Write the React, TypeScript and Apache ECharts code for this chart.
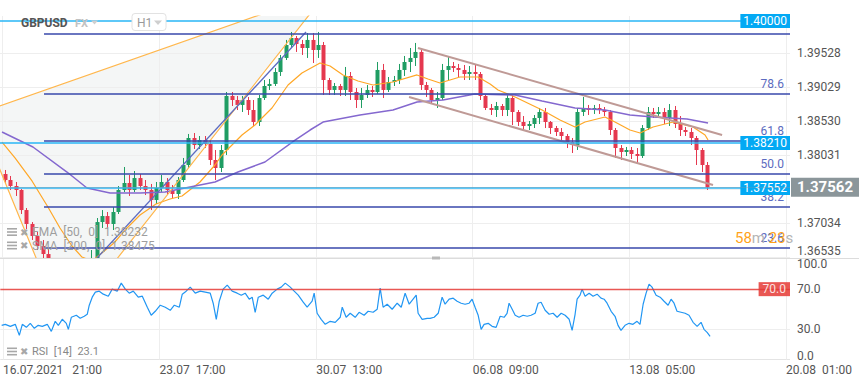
import React, { useEffect, useRef } from 'react';
import * as echarts from 'echarts';

// ---------- DATA ----------
// 4-hour candles: [open, close, low, high]
const candles: number[][] = [
  [1.37757, 1.37669, 1.37625, 1.37816], [1.37669, 1.37581, 1.37523, 1.37728], [1.37581, 1.37523, 1.37435, 1.37640],
  [1.37523, 1.37229, 1.37171, 1.37537], [1.37229, 1.37024, 1.36951, 1.37259], [1.37024, 1.36848, 1.36790, 1.37053],
  [1.36848, 1.36702, 1.36643, 1.36907], [1.36702, 1.36584, 1.36526, 1.36790], [1.36584, 1.36467, 1.36408, 1.36672],
  [1.36467, 1.36203, 1.36130, 1.36526], [1.36203, 1.35910, 1.35734, 1.36262], [1.35910, 1.35983, 1.35719, 1.36130],
  [1.35983, 1.36057, 1.35881, 1.36159], [1.36057, 1.36145, 1.35969, 1.36262], [1.36145, 1.36057, 1.35939, 1.36232],
  [1.36057, 1.36320, 1.35998, 1.36379], [1.36320, 1.36526, 1.36262, 1.36643], [1.36526, 1.37053, 1.36467, 1.37112],
  [1.37053, 1.37141, 1.36966, 1.37229], [1.37141, 1.37024, 1.36951, 1.37200], [1.37024, 1.37200, 1.36936, 1.37273],
  [1.37200, 1.37523, 1.37171, 1.37581], [1.37523, 1.37625, 1.37493, 1.37860], [1.37625, 1.37523, 1.37435, 1.37742],
  [1.37523, 1.37698, 1.37493, 1.37801], [1.37698, 1.37581, 1.37523, 1.37757], [1.37581, 1.37523, 1.37449, 1.37669],
  [1.37523, 1.37376, 1.37229, 1.37611], [1.37376, 1.37552, 1.37317, 1.37640], [1.37552, 1.37640, 1.37493, 1.37742],
  [1.37640, 1.37523, 1.37449, 1.37698], [1.37523, 1.37464, 1.37405, 1.37596], [1.37464, 1.37669, 1.37391, 1.37713],
  [1.37669, 1.37889, 1.37640, 1.37992], [1.37889, 1.38285, 1.37845, 1.38344], [1.38285, 1.38182, 1.38124, 1.38358],
  [1.38182, 1.38255, 1.38124, 1.38314], [1.38255, 1.38197, 1.38138, 1.38314], [1.38197, 1.37962, 1.37889, 1.38255],
  [1.37962, 1.37845, 1.37669, 1.38109], [1.37845, 1.38109, 1.37786, 1.38182], [1.38109, 1.38901, 1.38036, 1.38959],
  [1.38901, 1.38842, 1.38754, 1.38959], [1.38842, 1.38769, 1.38695, 1.38901], [1.38769, 1.38842, 1.38666, 1.38901],
  [1.38842, 1.38695, 1.38622, 1.38886], [1.38695, 1.38519, 1.38461, 1.38842], [1.38519, 1.38871, 1.38461, 1.38915],
  [1.38871, 1.39047, 1.38842, 1.39135], [1.39047, 1.39077, 1.38989, 1.39150], [1.39077, 1.39252, 1.39047, 1.39311],
  [1.39252, 1.39458, 1.39194, 1.39502], [1.39458, 1.39648, 1.39428, 1.39722], [1.39648, 1.39751, 1.39604, 1.39839],
  [1.39751, 1.39663, 1.39546, 1.39780], [1.39663, 1.39604, 1.39502, 1.39722], [1.39604, 1.39722, 1.39458, 1.39824],
  [1.39722, 1.39575, 1.39384, 1.39824], [1.39575, 1.39648, 1.39458, 1.39839], [1.39648, 1.39135, 1.38915, 1.39692],
  [1.39135, 1.38989, 1.38915, 1.39165], [1.38989, 1.39047, 1.38915, 1.39091], [1.39047, 1.38989, 1.38901, 1.39077],
  [1.38989, 1.39194, 1.38901, 1.39326], [1.39194, 1.38959, 1.38842, 1.39252], [1.38959, 1.38842, 1.38725, 1.39018],
  [1.38842, 1.38915, 1.38725, 1.39018], [1.38915, 1.38989, 1.38871, 1.39062], [1.38989, 1.38959, 1.38886, 1.39047],
  [1.38959, 1.39282, 1.38930, 1.39399], [1.39282, 1.38989, 1.38871, 1.39370], [1.38989, 1.39106, 1.38959, 1.39179],
  [1.39106, 1.39135, 1.39047, 1.39194], [1.39135, 1.39282, 1.39077, 1.39370], [1.39282, 1.39399, 1.39194, 1.39487],
  [1.39399, 1.39458, 1.39252, 1.39604], [1.39458, 1.39546, 1.39340, 1.39678], [1.39546, 1.39062, 1.38989, 1.39575],
  [1.39062, 1.38989, 1.38886, 1.39106], [1.38989, 1.38842, 1.38783, 1.39018], [1.38842, 1.38871, 1.38725, 1.38959],
  [1.38871, 1.39282, 1.38842, 1.39370], [1.39282, 1.39340, 1.39135, 1.39472], [1.39340, 1.39311, 1.39252, 1.39399],
  [1.39311, 1.39282, 1.39179, 1.39370], [1.39282, 1.39223, 1.39135, 1.39355], [1.39223, 1.39252, 1.39135, 1.39340],
  [1.39252, 1.39223, 1.39135, 1.39355], [1.39223, 1.38901, 1.38842, 1.39252], [1.38901, 1.38725, 1.38695, 1.38930],
  [1.38725, 1.38695, 1.38622, 1.38783], [1.38695, 1.38754, 1.38593, 1.38813], [1.38754, 1.38695, 1.38607, 1.38783],
  [1.38695, 1.38871, 1.38607, 1.38915], [1.38871, 1.38666, 1.38475, 1.38915], [1.38666, 1.38519, 1.38461, 1.38695],
  [1.38519, 1.38461, 1.38402, 1.38607], [1.38461, 1.38490, 1.38402, 1.38534], [1.38490, 1.38578, 1.38431, 1.38622],
  [1.38578, 1.38666, 1.38490, 1.38725], [1.38666, 1.38519, 1.38431, 1.38725], [1.38519, 1.38431, 1.38344, 1.38534],
  [1.38431, 1.38373, 1.38314, 1.38461], [1.38373, 1.38314, 1.38255, 1.38431], [1.38314, 1.38226, 1.38138, 1.38344],
  [1.38226, 1.38182, 1.38065, 1.38285], [1.38182, 1.38666, 1.38109, 1.38725], [1.38666, 1.38725, 1.38607, 1.38886],
  [1.38725, 1.38695, 1.38622, 1.38769], [1.38695, 1.38725, 1.38637, 1.38769], [1.38725, 1.38695, 1.38637, 1.38783],
  [1.38695, 1.38666, 1.38607, 1.38739], [1.38666, 1.38402, 1.38329, 1.38695], [1.38402, 1.38138, 1.37992, 1.38431],
  [1.38138, 1.38080, 1.37962, 1.38182], [1.38080, 1.38109, 1.38021, 1.38153], [1.38109, 1.38050, 1.37977, 1.38153],
  [1.38050, 1.38021, 1.37918, 1.38138], [1.38021, 1.38431, 1.37992, 1.38475], [1.38431, 1.38666, 1.38402, 1.38739],
  [1.38666, 1.38637, 1.38578, 1.38725], [1.38637, 1.38666, 1.38578, 1.38739], [1.38666, 1.38578, 1.38490, 1.38725],
  [1.38578, 1.38695, 1.38461, 1.38783], [1.38695, 1.38490, 1.38431, 1.38754], [1.38490, 1.38402, 1.38314, 1.38607],
  [1.38402, 1.38373, 1.38314, 1.38446], [1.38373, 1.38285, 1.38182, 1.38431], [1.38285, 1.38109, 1.37889, 1.38314],
  [1.38109, 1.37889, 1.37786, 1.38138], [1.37889, 1.37562, 1.37523, 1.37933],
];
const candleHours = 4; // hours per candle

// EMA 50: [hour, value]
const emaLine: number[][] = [
  [-0.5, 1.38226], [9.1, 1.37992], [21.7, 1.37655], [33.5, 1.37273], [42.4, 1.36966], [51.3, 1.36702],
  [58.7, 1.36540], [66.1, 1.36482], [74.3, 1.36614], [82.4, 1.36746], [90.6, 1.36936], [101.7, 1.37156],
  [113.5, 1.37317], [123.9, 1.37391], [132.8, 1.37435], [146.1, 1.37640], [157.2, 1.37889], [162.4, 1.38036],
  [177.2, 1.38329], [186.8, 1.38475], [199.4, 1.38725], [211.3, 1.39062], [221.6, 1.39238], [235.0, 1.39384],
  [242.4, 1.39340], [252.0, 1.39209], [263.1, 1.39120], [274.2, 1.39062], [289.0, 1.39106], [306.8, 1.39209],
  [314.9, 1.39150], [323.8, 1.39091], [338.6, 1.39179], [352.0, 1.39179], [360.9, 1.39077], [366.8, 1.38989],
  [379.4, 1.38886], [399.4, 1.38695], [412.7, 1.38549], [423.8, 1.38446], [431.2, 1.38519], [446.0, 1.38593],
  [453.4, 1.38519], [464.5, 1.38402], [472.0, 1.38358], [481.6, 1.38446], [496.4, 1.38519], [511.2, 1.38446],
  [520.1, 1.38329], [522.3, 1.38255],
];

// SMA 200: [hour, value]
const smaLine: number[][] = [
  [-0.5, 1.38373], [22.4, 1.38153], [47.6, 1.37786], [62.4, 1.37552], [79.5, 1.37479], [101.7, 1.37479],
  [120.2, 1.37493], [157.2, 1.37640], [174.2, 1.37786], [194.2, 1.37933], [216.5, 1.38255], [227.6, 1.38402],
  [237.2, 1.38519], [264.6, 1.38622], [289.0, 1.38695], [306.8, 1.38813], [326.0, 1.38842], [349.7, 1.38930],
  [379.4, 1.38915], [399.4, 1.38827], [423.8, 1.38725], [446.0, 1.38695], [464.5, 1.38622], [481.6, 1.38593],
  [506.7, 1.38564], [522.3, 1.38505],
];

// RSI 14: [hour, value]
const rsiLine: number[][] = [
  [-1, 34], [1.7, 35], [5.4, 33], [9.1, 35], [12.1, 24], [14.3, 35], [17.3, 32], [20.2, 36], [23.2, 31], [26.1, 34],
  [29.1, 33], [32.8, 35], [35.8, 28], [38.7, 38], [41, 34], [43.9, 40], [46.9, 36], [48.4, 30], [50.6, 42], [54.3, 44],
  [57.2, 41], [60.2, 43], [62.4, 45], [63.9, 54], [66.1, 62], [68.4, 67], [71.3, 68], [74.3, 65], [78, 63], [80.9, 70],
  [84.6, 68], [87.6, 76], [90.6, 70], [93.5, 66], [96.5, 68], [100.2, 62], [103.2, 63], [106.9, 52], [109.8, 44],
  [112.8, 48], [116.5, 54], [120.2, 52], [123.9, 49], [126.9, 54], [130.6, 52], [132.8, 65], [135.7, 68], [138.7, 72],
  [142.4, 66], [146.1, 68], [149.8, 67], [153.5, 66], [155.7, 56], [158, 40], [160.2, 58], [163.1, 70], [166.1, 74],
  [169.8, 68], [173.5, 66], [176.5, 64], [179.4, 66], [182.4, 60], [184.6, 62], [186.8, 47], [189.1, 62], [192.8, 64],
  [196.5, 60], [199.4, 66], [203.1, 70], [206.1, 72], [209.1, 76], [212.8, 72], [215.7, 68], [218.7, 64], [222.4, 57],
  [225.3, 52], [229, 58], [230.5, 66], [232.7, 46], [235.7, 40], [238.7, 35], [242.4, 38], [246.1, 37], [249.8, 42],
  [251.3, 52], [254.2, 42], [257.2, 46], [260.9, 42], [263.8, 47], [267.5, 44], [270.5, 48], [274.2, 47], [277.2, 50],
  [279.4, 71], [281.6, 52], [284.6, 55], [288.3, 50], [292, 56], [295, 52], [297.9, 66], [300.9, 55], [303.8, 60],
  [306.1, 64], [307.5, 46], [310.5, 40], [314.2, 41], [316.4, 41], [319.4, 42], [322.4, 46], [325.3, 62], [327.5, 55],
  [330.5, 60], [333.5, 61], [336.4, 58], [339.4, 56], [342.3, 55], [345.3, 56], [347.5, 60], [349.7, 52], [352, 44],
  [354.2, 30], [356.4, 35], [359.4, 36], [362.3, 33], [365.3, 32], [368.3, 43], [371.2, 42], [373.4, 46], [374.9, 56],
  [377.2, 50], [379.4, 44], [382.3, 42], [385.3, 44], [388.3, 43], [391.2, 44], [394.2, 46], [396.4, 56], [398.6, 57],
  [401.6, 49], [404.6, 45], [407.5, 46], [410.5, 42], [413.5, 46], [416.4, 44], [419.4, 40], [421.6, 29], [423.8, 45],
  [425.3, 60], [427.5, 64], [429, 70], [431.2, 63], [434.2, 66], [437.1, 63], [440.1, 65], [443, 61], [445.3, 60],
  [447.5, 56], [450.5, 48], [453.4, 43], [455.6, 34], [457.8, 29], [460.8, 34], [463.8, 36], [466.7, 35], [469.7, 38],
  [471.9, 35], [474.2, 55], [476.4, 66], [478.6, 75], [480.8, 72], [483.8, 64], [486.8, 62], [489.7, 58], [492.7, 54],
  [494.9, 60], [497.1, 56], [499.3, 48], [502.3, 47], [505.3, 46], [508.2, 44], [511.2, 37], [514.2, 33], [517.1, 37],
  [519.3, 30], [521.6, 27], [523.8, 23.1],
];

const xTickHours = [0, 116, 232, 348, 464, 580];
const xTickLabels = ['16.07.2021   21:00', '23.07  17:00', '30.07  13:00', '06.08  09:00', '13.08  05:00', '20.08  01:00'];
const priceTicks = [1.36535, 1.37034, 1.38031, 1.3853, 1.39029, 1.39528];
const priceGridLevels = [1.36535, 1.37034, 1.37532, 1.38031, 1.3853, 1.39029, 1.39528];
const rsiTicks = [0, 30, 70, 100];
const rsiOverbought = 70;

const fibNames = ['100', '78.6', '61.8', '50.0', '38.2', '23.6'];
const fibValues = [1.3982, 1.3894, 1.38251, 1.37767, 1.37284, 1.36683];
const fibStartHour = 30.6;
const priceLines = [1.4, 1.3821, 1.37552];
const lastPrice = 1.37562;
const trendLine = [[42.4, 1.35939], [224.6, 1.39839]];
const triangle = [[-19.0, 1.38637], [240.9, 1.4044], [45.4, 1.35529]];
const channelUpper = [[307.5, 1.39604], [532.7, 1.38329]];
const channelLower = [[300.9, 1.38886], [526.0, 1.37596]];

// ---------- STYLE ----------
const FONT = 'Roboto, "Noto Sans", sans-serif';
const X_MIN = -2;
const X_MAX = 583;
const Y_MIN = 1.36526;
const Y_MAX = 1.40073;
const UP = '#1f9d63';
const DOWN = '#e5384f';

const renderCandle = (_params: any, api: any) => {
  const x = api.value(0);
  const o = api.value(1);
  const c = api.value(2);
  const l = api.value(3);
  const h = api.value(4);
  const pO = api.coord([x, o]);
  const pC = api.coord([x, c]);
  const pL = api.coord([x, l]);
  const pH = api.coord([x, h]);
  const color = c >= o ? UP : DOWN;
  const cx = Math.round(pO[0]);
  const top = Math.min(pO[1], pC[1]);
  const bh = Math.max(1, Math.abs(pO[1] - pC[1]));
  return {
    type: 'group',
    children: [
      { type: 'line', shape: { x1: cx + 0.5, y1: pH[1], x2: cx + 0.5, y2: pL[1] }, style: { stroke: color, lineWidth: 1 } },
      { type: 'rect', shape: { x: cx - 1.5, y: top, width: 4, height: bh }, style: { fill: color } },
    ],
  };
};

const listIcon = (x: number, y: number) => [
  { type: 'rect', z: 100, shape: { x, y: y - 4, width: 10, height: 1.6 }, style: { fill: '#a8a8a8' } },
  { type: 'rect', z: 100, shape: { x, y: y - 0.8, width: 10, height: 1.6 }, style: { fill: '#a8a8a8' } },
  { type: 'rect', z: 100, shape: { x, y: y + 2.4, width: 10, height: 1.6 }, style: { fill: '#a8a8a8' } },
  { type: 'text', z: 100, x: x + 13, y, style: { text: '✖', fill: '#a8a8a8', fontSize: 10, fontFamily: '"DejaVu Sans", sans-serif', verticalAlign: 'middle' } },
];

function buildOption() {
  const main = { xAxisIndex: 0, yAxisIndex: 0 };
  const rsi = { xAxisIndex: 1, yAxisIndex: 1 };
  const noSym = ['none', 'none'];
  return {
    animation: false,
    textStyle: { fontFamily: FONT },
    grid: [
      { left: 0, top: 16, width: 790, height: 242 },
      { left: 0, top: 259, width: 790, height: 100.5 },
    ],
    xAxis: [
      { type: 'value', gridIndex: 0, min: X_MIN, max: X_MAX, show: false },
      {
        type: 'value', gridIndex: 1, min: X_MIN, max: X_MAX,
        axisLine: { show: false }, axisTick: { show: false }, splitLine: { show: false },
        axisLabel: {
          customValues: xTickHours,
          formatter: (v: number) => xTickLabels[xTickHours.indexOf(Math.round(v))] ?? '',
          align: 'left', color: '#555', fontSize: 12, margin: 4, fontFamily: FONT,
        },
      },
    ],
    yAxis: [
      {
        type: 'value', gridIndex: 0, position: 'right', min: Y_MIN, max: Y_MAX,
        axisLine: { show: false }, axisTick: { show: false }, splitLine: { show: false },
        axisLabel: {
          customValues: priceTicks, margin: 7, color: '#555', fontSize: 12, fontFamily: FONT,
          formatter: (v: number) => (v < 1.366 ? `{lo|${v.toFixed(5)}}` : v.toFixed(5)),
          rich: { lo: { padding: [0, 0, 12, 0], color: '#555', fontSize: 12, fontFamily: FONT } },
        },
      },
      {
        type: 'value', gridIndex: 1, position: 'right', min: 0, max: 100,
        axisLine: { show: false }, axisTick: { show: false }, splitLine: { show: false },
        axisLabel: {
          customValues: rsiTicks, margin: 7, color: '#555', fontSize: 12, fontFamily: FONT,
          formatter: (v: number) => (v >= 99.9 ? `{hi|${v.toFixed(1)}}` : v <= 0.1 ? `{lo|${v.toFixed(1)}}` : v.toFixed(1)),
          rich: {
            hi: { padding: [10, 0, 0, 0], color: '#555', fontSize: 12, fontFamily: FONT },
            lo: { padding: [0, 0, 8, 0], color: '#555', fontSize: 12, fontFamily: FONT },
          },
        },
      },
    ],
    series: [
      {
        name: 'fill', type: 'custom', ...main, clip: true, silent: true, z: 0, data: [[0, 1.38]],
        renderItem: (_p: any, api: any) => ({
          type: 'polygon',
          shape: { points: triangle.map((p) => api.coord(p)) },
          style: { fill: '#f4f6f6' },
        }),
      },
      {
        name: 'gridMain', type: 'line', ...main, data: [], silent: true,
        markLine: {
          silent: true, symbol: noSym, z: 1, precision: 6, label: { show: false },
          lineStyle: { color: '#eeeeee', width: 1, type: 'solid' },
          data: [...priceGridLevels.map((v) => ({ yAxis: v })), ...xTickHours.map((h) => ({ xAxis: h }))],
        },
      },
      {
        name: 'GBPUSD', type: 'custom', ...main, clip: true, z: 3,
        data: candles.map((c, i) => [i * candleHours + 1.5, c[0], c[1], c[2], c[3]]),
        encode: { x: 0, y: [1, 2, 3, 4] },
        renderItem: renderCandle,
      },
      { name: 'EMA', type: 'line', ...main, data: emaLine, showSymbol: false, z: 4, silent: true, lineStyle: { color: '#ffa726', width: 1.2 } },
      { name: 'SMA', type: 'line', ...main, data: smaLine, showSymbol: false, z: 4, silent: true, lineStyle: { color: '#8468cf', width: 1.5 } },
      { name: 'triangle', type: 'line', ...main, data: [...triangle, triangle[0]], showSymbol: false, z: 5, silent: true, lineStyle: { color: '#ffb74d', width: 1.2 } },
      { name: 'trend', type: 'line', ...main, data: trendLine, showSymbol: false, z: 5, silent: true, lineStyle: { color: '#5c6bc0', width: 1.3 } },
      { name: 'chanU', type: 'line', ...main, data: channelUpper, showSymbol: false, z: 5, silent: true, lineStyle: { color: '#bf9a96', width: 2 } },
      { name: 'chanL', type: 'line', ...main, data: channelLower, showSymbol: false, z: 5, silent: true, lineStyle: { color: '#bf9a96', width: 2 } },
      {
        name: 'fib', type: 'line', ...main, data: [], silent: true,
        markLine: {
          silent: true, symbol: noSym, z: 6, precision: 6,
          lineStyle: { color: '#3949ab', width: 1.5, type: 'solid' },
          label: { position: 'insideEndTop', formatter: '{b}', color: '#5c6bc0', fontSize: 12, distance: [6, 3], fontFamily: FONT },
          data: fibValues.map((v, i) => [
            { name: fibNames[i], coord: [fibStartHour, v], label: { show: i > 0 } },
            { coord: [X_MAX, v] },
          ]),
        },
      },
      {
        name: 'levels', type: 'line', ...main, data: [], silent: true,
        markLine: {
          silent: true, symbol: noSym, z: 7, precision: 6,
          lineStyle: { color: '#29b6f6', width: 1.5, type: 'solid' },
          label: {
            position: 'insideEnd', distance: 0, formatter: (p: any) => Number(p.value).toFixed(5),
            backgroundColor: '#03a9f4', color: '#fff', fontSize: 12, padding: [1, 3, 1, 3], fontFamily: FONT,
          },
          data: priceLines.map((v) => ({ yAxis: v })),
        },
      },
      {
        name: 'last', type: 'line', ...main, data: [], silent: true,
        markLine: {
          silent: true, symbol: noSym, z: 8, precision: 6,
          lineStyle: { color: 'rgba(139,150,154,0.35)', width: 1, type: 'solid' },
          label: {
            show: true, position: 'end', distance: 1, formatter: () => lastPrice.toFixed(5),
            backgroundColor: '#8b969a', color: '#ffffff', fontSize: 15, fontWeight: 'bold', padding: [2, 6, 2, 6], fontFamily: FONT,
          },
          data: [{ yAxis: lastPrice }],
        },
      },
      {
        name: 'RSI', type: 'line', ...rsi, data: rsiLine, showSymbol: false, z: 4, silent: true,
        lineStyle: { color: '#2196f3', width: 1.2 },
        markLine: {
          silent: true, symbol: noSym, z: 1, precision: 4, label: { show: false },
          lineStyle: { color: '#eeeeee', width: 1, type: 'solid' },
          data: [{ yAxis: 30 }, { yAxis: 0, lineStyle: { color: '#e4e4e4' } }, ...xTickHours.map((h) => ({ xAxis: h }))],
        },
      },
      {
        name: 'rsiOB', type: 'line', ...rsi, data: [], silent: true,
        markLine: {
          silent: true, symbol: noSym, z: 6, precision: 4,
          lineStyle: { color: '#e53935', width: 1.4, type: 'solid', opacity: 0.85 },
          label: {
            position: 'insideEnd', distance: 0, formatter: rsiOverbought.toFixed(1),
            backgroundColor: '#e53935', color: '#fff', fontSize: 12, padding: [1, 4, 1, 4], fontFamily: FONT,
          },
          data: [{ yAxis: rsiOverbought }],
        },
      },
    ],
    graphic: [
      { type: 'line', z: 50, shape: { x1: 0, y1: 258.5, x2: 859, y2: 258.5 }, style: { stroke: '#dcdcdc', lineWidth: 1 } },
      { type: 'rect', z: 51, shape: { x: 432, y: 256.5, width: 8, height: 3 }, style: { fill: '#b8b8b8' } },
      { type: 'text', z: 100, x: 21, y: 23, style: { text: 'GBPUSD', fill: '#555', fontSize: 12, fontWeight: 'bold', fontFamily: FONT, verticalAlign: 'middle' } },
      { type: 'text', z: 100, x: 75, y: 23, style: { text: 'FX', fill: '#c2c2c2', fontSize: 11, fontWeight: 'bold', fontFamily: FONT, verticalAlign: 'middle' } },
      { type: 'polygon', z: 100, shape: { points: [[91, 20.5], [98, 20.5], [94.5, 24.5]] }, style: { fill: '#cfcfcf' } },
      { type: 'rect', z: 99, shape: { x: 132, y: 13.5, width: 34, height: 17, r: 3 }, style: { fill: '#fff', stroke: '#e2e2e2', lineWidth: 1 } },
      { type: 'text', z: 100, x: 137, y: 22.5, style: { text: 'H1', fill: '#9a9a9a', fontSize: 12, fontFamily: FONT, verticalAlign: 'middle' } },
      { type: 'polygon', z: 100, shape: { points: [[154, 20.5], [162, 20.5], [158, 25]] }, style: { fill: '#cfcfcf' } },
      ...listIcon(7, 232),
      { type: 'text', z: 100, x: 32, y: 232, style: { text: 'EMA  [50,  0]  1.38232', fill: '#9e9e9e', fontSize: 12, fontFamily: FONT, verticalAlign: 'middle' } },
      ...listIcon(7, 245.5),
      { type: 'text', z: 100, x: 32, y: 245.5, style: { text: 'SMA  [200,  0]  1.38475', fill: '#9e9e9e', fontSize: 12, fontFamily: FONT, verticalAlign: 'middle' } },
      ...listIcon(7, 351.5),
      { type: 'text', z: 100, x: 32, y: 351.5, style: { text: 'RSI  [14]  23.1', fill: '#888', fontSize: 11, fontFamily: FONT, verticalAlign: 'middle' } },
      {
        type: 'text', z: 100, x: 735, y: 237.5,
        style: {
          text: '{o|58}{g|m }{o|23}{g|s}', verticalAlign: 'middle',
          rich: {
            o: { fill: '#ffa31a', fontSize: 15, fontFamily: FONT },
            g: { fill: '#b5b5b5', fontSize: 15, fontFamily: FONT },
          },
        },
      },
    ],
  };
}

export default function App() {
  const ref = useRef<HTMLDivElement>(null);
  useEffect(() => {
    if (!ref.current) return;
    const chart = echarts.init(ref.current, null, { renderer: 'svg' });
    chart.setOption(buildOption() as any);
    return () => chart.dispose();
  }, []);
  return <div ref={ref} style={{ position: 'fixed', left: 0, top: 0, width: 859, height: 385, background: '#fff' }} />;
}
